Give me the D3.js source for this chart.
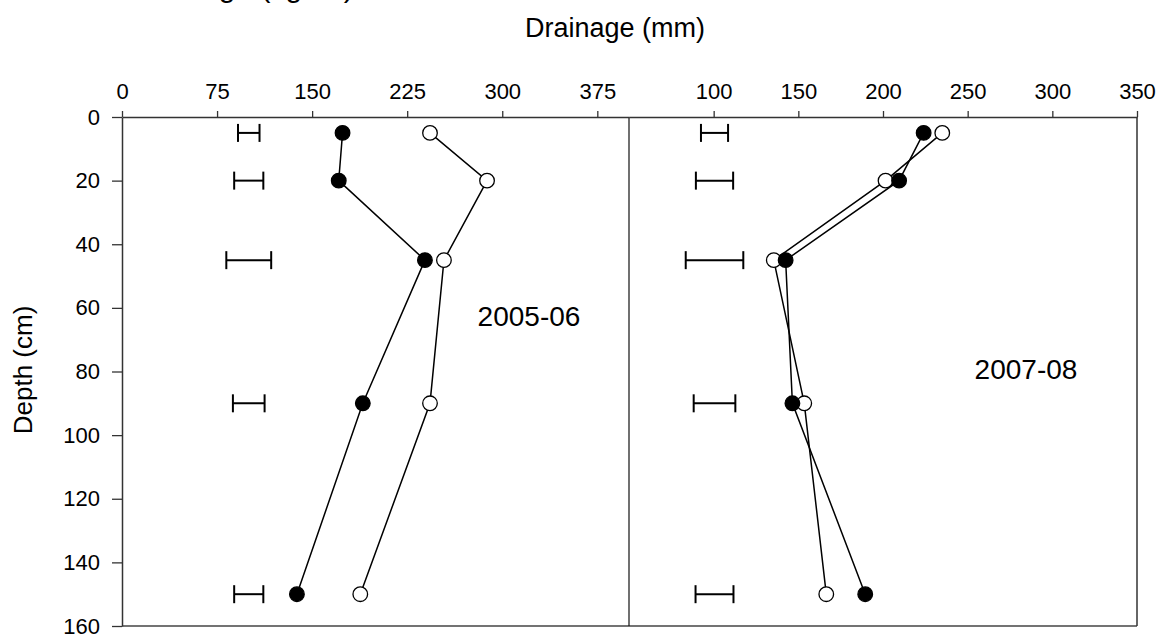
<!DOCTYPE html>
<html>
<head>
<meta charset="utf-8">
<script src="https://cdn.jsdelivr.net/npm/d3@7"></script>
<style>
  body { margin: 0; background: #fff; }
  svg { display: block; font-family: "Liberation Sans", Arial, sans-serif; }
</style>
</head>
<body>
<svg id="chart" width="1160" height="635"></svg>
<script>
// depths (cm) sampled in both seasons
const depths = [5, 20, 45, 90, 150];

// 2005-06 drainage (mm)
const filled0506 = [174, 171, 239, 190, 138];
const open0506 = [243, 288, 254, 243, 188];
const errCenter0506 = [100, 100, 100, 100, 100];
const errHalf0506 = [8.5, 11.5, 17.7, 12.5, 11.5];

// 2007-08 drainage (mm)
const filled0708 = [224, 209.5, 142.5, 146.5, 189.5];
const open0708 = [235, 201.5, 135.5, 153.5, 166.5];
const errCenter0708 = [100.5, 100.5, 100.5, 100.5, 100.5];
const errHalf0708 = [8, 11, 17, 12.3, 11.2];

const ticksLeft = [0, 75, 150, 225, 300, 375];
const ticksRight = [100, 150, 200, 250, 300, 350];
const depthTicks = [0, 20, 40, 60, 80, 100, 120, 140, 160];

const svg = d3.select("#chart");
const plotTop = 117, plotBottom = 626, plotLeft = 122, plotMid = 629, plotRight = 1137;
const axisColor = "#333";

const y = d3.scaleLinear().domain([0, 160]).range([plotTop, plotBottom]);
const xLeft = d3.scaleLinear().domain([0, 400]).range([plotLeft, plotMid]);
const xRight = d3.scaleLinear().domain([50, 350]).range([plotMid, plotRight]);

// frame lines: bottom, right border, divider
svg.append("line").attr("x1", plotLeft).attr("x2", plotRight).attr("y1", plotBottom).attr("y2", plotBottom)
  .attr("stroke", "#444").attr("stroke-width", 1.5);
svg.append("line").attr("x1", plotRight).attr("x2", plotRight).attr("y1", plotTop).attr("y2", plotBottom)
  .attr("stroke", axisColor).attr("stroke-width", 1.5);
svg.append("line").attr("x1", plotMid).attr("x2", plotMid).attr("y1", plotTop).attr("y2", plotBottom)
  .attr("stroke", "#111").attr("stroke-width", 1.2);

function styleAxis(g) {
  g.select(".domain").attr("stroke", axisColor).attr("stroke-width", 1.5);
  g.selectAll(".tick line").attr("stroke", axisColor).attr("stroke-width", 1.3);
  g.selectAll(".tick text").attr("fill", "#000").style("font-size", "22px");
}

// top axes
svg.append("g")
  .attr("transform", `translate(0,${plotTop})`)
  .call(d3.axisTop(xLeft).tickValues(ticksLeft).tickSize(6).tickPadding(12).tickSizeOuter(0))
  .call(styleAxis);
svg.append("g")
  .attr("transform", `translate(0,${plotTop})`)
  .call(d3.axisTop(xRight).tickValues(ticksRight).tickSize(6).tickPadding(12).tickSizeOuter(0))
  .call(styleAxis);

// depth axis
svg.append("g")
  .attr("transform", `translate(${plotLeft},0)`)
  .call(d3.axisLeft(y).tickValues(depthTicks).tickSize(10).tickPadding(12).tickSizeOuter(0))
  .call(styleAxis);

// axis titles
svg.append("text")
  .attr("x", 615).attr("y", 37)
  .attr("text-anchor", "middle")
  .style("font-size", "27px")
  .text("Drainage (mm)");

svg.append("text")
  .attr("transform", "translate(32,370) rotate(-90)")
  .attr("text-anchor", "middle")
  .style("font-size", "26px")
  .text("Depth (cm)");

// title of the panel above, cut off by the frame
svg.append("text")
  .attr("x", 137).attr("y", -3)
  .style("font-size", "30px")
  .text("Leakage (kg/ha)");

function drawPanel(x, filled, open, errCenter, errHalf, label, lx, ly) {
  const g = svg.append("g");

  // LSD bars
  const bars = g.selectAll(".err")
    .data(depths.map((d, i) => ({ depth: d, c: errCenter[i], h: errHalf[i] })))
    .enter().append("g");
  bars.append("line")
    .attr("x1", d => x(d.c - d.h)).attr("x2", d => x(d.c + d.h))
    .attr("y1", d => y(d.depth)).attr("y2", d => y(d.depth))
    .attr("stroke", "#000").attr("stroke-width", 2);
  [-1, 1].forEach(s => {
    bars.append("line")
      .attr("x1", d => x(d.c + s * d.h)).attr("x2", d => x(d.c + s * d.h))
      .attr("y1", d => y(d.depth) - 9).attr("y2", d => y(d.depth) + 9)
      .attr("stroke", "#000").attr("stroke-width", 2);
  });

  const line = d3.line().x(d => x(d.v)).y(d => y(d.depth));

  [{ vals: open, fill: "#fff" }, { vals: filled, fill: "#000" }].forEach(s => {
    const pts = depths.map((d, i) => ({ depth: d, v: s.vals[i] }));
    g.append("path")
      .datum(pts)
      .attr("d", line)
      .attr("fill", "none")
      .attr("stroke", "#000")
      .attr("stroke-width", 1.5);
    g.selectAll(null)
      .data(pts)
      .enter().append("circle")
        .attr("cx", d => x(d.v))
        .attr("cy", d => y(d.depth))
        .attr("r", 7.3)
        .attr("fill", s.fill)
        .attr("stroke", "#000")
        .attr("stroke-width", 1.3);
  });

  g.append("text")
    .attr("x", lx).attr("y", ly)
    .attr("text-anchor", "middle")
    .style("font-size", "28px")
    .text(label);
}

drawPanel(xLeft, filled0506, open0506, errCenter0506, errHalf0506, "2005-06", 529, 326);
drawPanel(xRight, filled0708, open0708, errCenter0708, errHalf0708, "2007-08", 1026, 379);
</script>
</body>
</html>
